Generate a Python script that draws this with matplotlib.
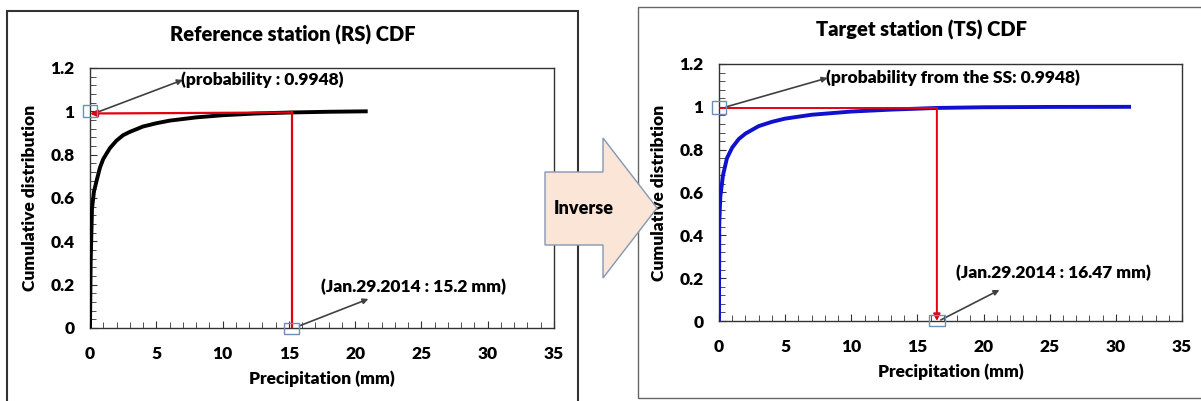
import matplotlib.pyplot as plt
from matplotlib.patches import Rectangle, Polygon
from matplotlib.ticker import MultipleLocator

plt.rcParams['font.family'] = ['Lato', 'DejaVu Sans']
plt.rcParams['font.weight'] = 'heavy'

# CDF of the reference station
rs_precip = [0, 0.05, 0.15, 0.3, 0.5, 0.75, 1.0, 1.5, 2.0, 2.5, 3.0, 4.0, 5.0,
             6.0, 8.0, 10.0, 12.5, 15.2, 18.0, 20.8]
rs_cdf = [0, 0.3, 0.55, 0.63, 0.68, 0.74, 0.78, 0.83, 0.865, 0.89, 0.905, 0.93,
          0.945, 0.957, 0.972, 0.982, 0.99, 0.9948, 0.998, 1.0]

# CDF of the target station
ts_precip = [0, 0.02, 0.1, 0.3, 0.6, 1.0, 1.5, 2.0, 3.0, 4.0, 5.0, 7.0, 10.0,
             13.0, 16.47, 20.0, 25.0, 31.0]
ts_cdf = [0, 0.45, 0.58, 0.68, 0.76, 0.81, 0.85, 0.875, 0.91, 0.93, 0.945,
          0.963, 0.978, 0.987, 0.9948, 0.998, 0.9995, 1.0]

prob = 0.9948
rs_value = 15.2
ts_value = 16.47

W, H = 1201, 401
fig = plt.figure(figsize=(W / 100, H / 100), dpi=100)
BW = 'heavy'


def fx(px):
    return px / W


def fy(py):
    return 1 - py / H


# panel frames
fig.patches.append(Rectangle((fx(7), -0.05), fx(578 - 7), fy(11) + 0.05,
                             transform=fig.transFigure, fill=False,
                             ec='#333333', lw=1.5))
fig.patches.append(Rectangle((fx(638), fy(398)), 0.6, fy(7) - fy(398),
                             transform=fig.transFigure, fill=False,
                             ec='#666666', lw=1.0))

ax1 = fig.add_axes([fx(90), fy(328), fx(554 - 90), fy(68) - fy(328)])
ax2 = fig.add_axes([fx(719), fy(321), fx(1182 - 719), fy(64) - fy(321)])

box_c = '#6d8fb5'
red = '#e3000f'
gray = '#404040'


def style(ax):
    ax.set_xlim(0, 35)
    ax.set_ylim(0, 1.2)
    ax.xaxis.set_major_locator(MultipleLocator(5))
    ax.xaxis.set_minor_locator(MultipleLocator(1))
    ax.yaxis.set_major_locator(MultipleLocator(0.2))
    ax.yaxis.set_minor_locator(MultipleLocator(0.04))
    ax.tick_params(which='both', direction='in', labelsize=12.5, color='#333333')
    ax.tick_params(which='major', length=5)
    ax.tick_params(axis='x', which='major', pad=13)
    ax.tick_params(axis='y', which='major', pad=11)
    ax.tick_params(which='minor', length=4)
    ax.yaxis.set_major_formatter(plt.FuncFormatter(lambda v, p: f'{v:g}'))
    for s in ax.spines.values():
        s.set_color('#333333')
        s.set_linewidth(1.0)
    ax.set_xlabel('Precipitation (mm)', fontsize=12.5, fontweight=BW, labelpad=6)


style(ax1)
style(ax2)

# reference station
ax1.plot(rs_precip, rs_cdf, color='black', lw=2.8, zorder=3)
ax1.plot([rs_value, rs_value], [0, prob], color=red, lw=1.6, zorder=4)
ax1.annotate('', xy=(0, 0.99), xytext=(rs_value, prob),
             arrowprops=dict(arrowstyle='-|>', color=red, lw=1.6,
                             mutation_scale=10, shrinkA=0, shrinkB=0), zorder=4)
ax1.add_patch(Rectangle((-0.55, 0.972), 1.1, 0.055, fill=False, ec=box_c,
                        lw=1.0, clip_on=False, zorder=5))
ax1.add_patch(Rectangle((rs_value - 0.6, -0.027), 1.2, 0.05, fill=False,
                        ec=box_c, lw=1.0, clip_on=False, zorder=5))
ax1.annotate('', xy=(7.0, 1.145), xytext=(0.3, 0.99),
             arrowprops=dict(arrowstyle='-|>', color=gray, lw=1.2,
                             mutation_scale=8, shrinkA=0, shrinkB=0))
ax1.text(6.9, 1.145, '(probability : 0.9948)', fontsize=12.5, fontweight=BW,
         va='center', ha='left')
ax1.annotate('', xy=(21.0, 0.134), xytext=(rs_value + 0.6, 0.01),
             arrowprops=dict(arrowstyle='-|>', color=gray, lw=1.2,
                             mutation_scale=8, shrinkA=0, shrinkB=0))
ax1.text(17.4, 0.19, '(Jan.29.2014 : 15.2 mm)', fontsize=12.5, fontweight=BW,
         va='center', ha='left')
ax1.set_ylabel('Cumulative distribution', fontsize=12.5, fontweight=BW, labelpad=9)

# target station
ax2.plot(ts_precip, ts_cdf, color='#1010d0', lw=2.8, zorder=3)
ax2.plot([0, ts_value], [prob, prob], color=red, lw=1.4, zorder=4)
ax2.annotate('', xy=(ts_value, 0), xytext=(ts_value, prob),
             arrowprops=dict(arrowstyle='-|>', color=red, lw=1.4,
                             mutation_scale=10, shrinkA=0, shrinkB=0), zorder=4)
ax2.add_patch(Rectangle((-0.55, 0.968), 1.1, 0.06, fill=False, ec=box_c,
                        lw=1.0, clip_on=False, zorder=5))
ax2.add_patch(Rectangle((ts_value - 0.6, -0.022), 1.2, 0.05, fill=False,
                        ec=box_c, lw=1.0, clip_on=False, zorder=5))
ax2.annotate('', xy=(8.2, 1.135), xytext=(0.55, 1.0),
             arrowprops=dict(arrowstyle='-|>', color=gray, lw=1.2,
                             mutation_scale=8, shrinkA=0, shrinkB=0))
ax2.text(8.1, 1.135, '(probability from the SS: 0.9948)', fontsize=12.5,
         fontweight=BW, va='center', ha='left')
ax2.annotate('', xy=(21.2, 0.145), xytext=(ts_value + 0.3, 0.005),
             arrowprops=dict(arrowstyle='-|>', color=gray, lw=1.2,
                             mutation_scale=8, shrinkA=0, shrinkB=0))
ax2.text(17.9, 0.224, '(Jan.29.2014 : 16.47 mm)', fontsize=12.5,
         fontweight=BW, va='center', ha='left')
ax2.set_ylabel('Cumulative distribtion', fontsize=12.5, fontweight=BW, labelpad=9)

# titles
fig.text(fx(293), fy(35), 'Reference station (RS) CDF', fontsize=14.5,
         fontweight=BW, ha='center', va='center')
fig.text(fx(922), fy(30), 'Target station (TS) CDF', fontsize=14.5,
         fontweight=BW, ha='center', va='center')

# block arrow between the panels
pts = [(545, 172), (603, 172), (603, 138), (657, 208), (603, 278), (603, 245),
       (545, 245)]
fig.patches.append(Polygon([(fx(x), fy(y)) for x, y in pts], closed=True,
                           transform=fig.transFigure, fc='#fbe5d6',
                           ec='#8497b0', lw=1.0, zorder=10))
fig.text(fx(584), fy(208), 'Inverse', fontsize=13, fontweight=BW,
         ha='center', va='center', zorder=11)

fig.savefig('out.png', dpi=100)
